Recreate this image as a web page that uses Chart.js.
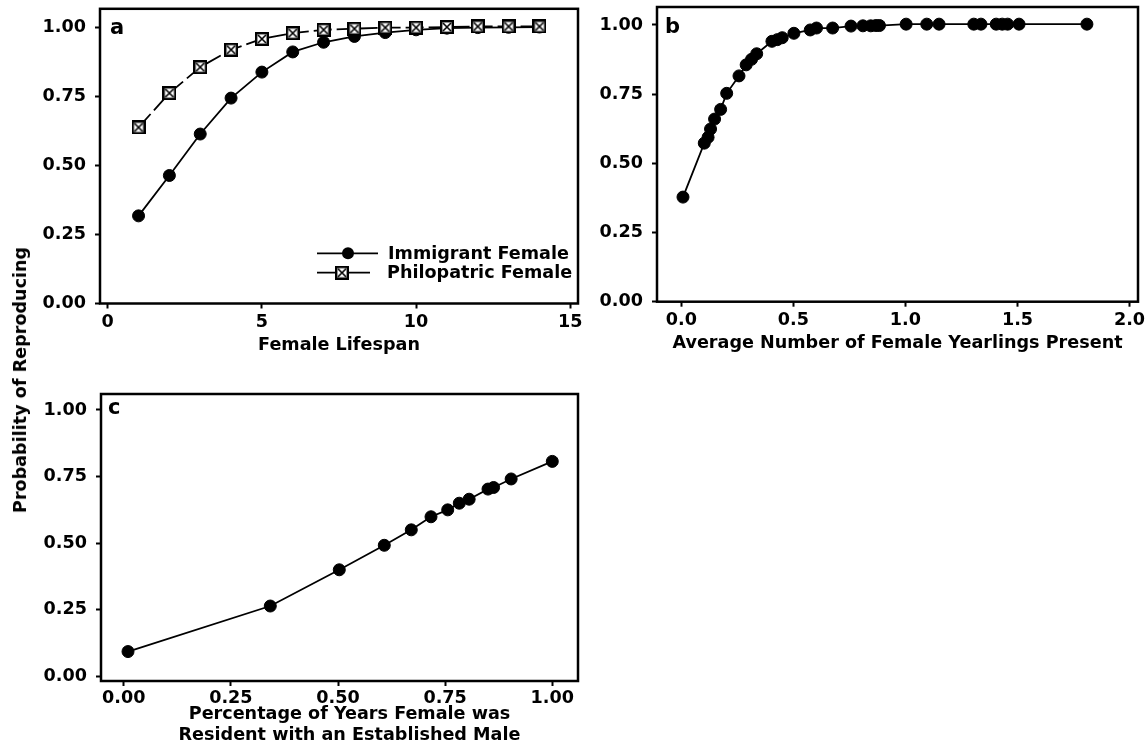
<!DOCTYPE html>
<html>
<head>
<meta charset="utf-8">
<script src="https://cdn.jsdelivr.net/npm/chart.js@4.4.0/dist/chart.umd.min.js"></script>
<style>
html,body{margin:0;padding:0;background:#fff;width:1147px;height:755px;overflow:hidden;}
.panel{position:absolute;}
#ytitle{position:absolute;left:20px;top:380px;font:bold 17.6px "DejaVu Sans";color:#000;white-space:nowrap;transform:translate(-50%,-50%) rotate(-90deg);}
</style>
</head>
<body>
<div class="panel" style="left:0;top:0;width:590px;height:360px;"><canvas id="ca"></canvas></div>
<div class="panel" style="left:557px;top:0;width:590px;height:360px;"><canvas id="cb"></canvas></div>
<div class="panel" style="left:0;top:370px;width:590px;height:385px;"><canvas id="cc"></canvas></div>
<div id="ytitle">Probability of Reproducing</div>
<script>
// ---------- DATA ----------
const lifespan = [1,2,3,4,5,6,7,8,9,10,11,12,13,14];
const immigrantProb = [0.317,0.463,0.613,0.743,0.837,0.910,0.945,0.966,0.980,0.990,0.996,0.998,0.999,1.000];
const philopatricProb = [0.637,0.761,0.855,0.918,0.957,0.978,0.990,0.994,0.998,0.998,1.000,1.002,1.002,1.002];

const yearlings = [0.007,0.102,0.119,0.130,0.148,0.175,0.202,0.257,0.289,0.313,0.336,0.404,0.428,0.450,0.502,0.575,0.603,0.675,0.757,0.810,0.845,0.868,0.884,1.003,1.095,1.150,1.305,1.337,1.405,1.432,1.456,1.507,1.810];
const probYearlings = [0.378,0.573,0.594,0.624,0.660,0.695,0.753,0.816,0.856,0.876,0.896,0.941,0.947,0.954,0.970,0.982,0.989,0.989,0.996,0.997,0.997,0.998,0.998,1.003,1.003,1.003,1.003,1.003,1.003,1.003,1.003,1.003,1.003];

const residentPct = [0.010,0.342,0.503,0.608,0.671,0.717,0.756,0.783,0.806,0.850,0.863,0.904,1.000];
const probResident = [0.093,0.264,0.400,0.492,0.550,0.599,0.625,0.650,0.665,0.703,0.709,0.741,0.807];

const yTicks = [0,0.25,0.5,0.75,1.0];
const yTickLabels = ['0.00','0.25','0.50','0.75','1.00'];
const xTicksA = [0,5,10,15];
const xTickLabelsA = ['0','5','10','15'];
const xTicksB = [0,0.5,1.0,1.5,2.0];
const xTickLabelsB = ['0.0','0.5','1.0','1.5','2.0'];
const xTicksC = [0,0.25,0.5,0.75,1.0];
const xTickLabelsC = ['0.00','0.25','0.50','0.75','1.00'];

const seriesNames = ['Immigrant Female','Philopatric Female'];
const panelLetters = ['a','b','c'];
const xTitles = ['Female Lifespan','Average Number of Female Yearlings Present',['Percentage of Years Female was','Resident with an Established Male']];

// ---------- STYLE HELPERS ----------
const FONT = '"DejaVu Sans"';
const FS = 17.6;
function makeBoxX(size){
  const c=document.createElement('canvas'); c.width=size; c.height=size;
  const g=c.getContext('2d');
  g.fillStyle='#fff'; g.fillRect(1,1,size-2,size-2);
  g.strokeStyle='#000'; g.lineWidth=2.4; g.strokeRect(1.2,1.2,size-2.4,size-2.4);
  g.lineWidth=1.6; g.beginPath();
  g.moveTo(3,3); g.lineTo(size-3,size-3); g.moveTo(size-3,3); g.lineTo(3,size-3); g.stroke();
  return c;
}
const boxX = makeBoxX(14);

const boxPlugin = {id:'boxFrame', beforeDatasetsDraw(chart){
  const {ctx, chartArea:a} = chart;
  ctx.save(); ctx.lineWidth=2.5; ctx.strokeStyle='#000';
  ctx.strokeRect(a.left, a.top, a.right-a.left, a.bottom-a.top);
  ctx.restore();
}};
const letterPlugin = {id:'panelLetter', afterDraw(chart, args, opts){
  const {ctx, chartArea:a} = chart;
  ctx.save(); ctx.fillStyle='#000'; ctx.font='bold 21px '+FONT;
  ctx.textBaseline='alphabetic'; ctx.textAlign='left';
  ctx.fillText(opts.text, a.left+opts.dx, a.top+opts.dy);
  ctx.restore();
}};
// two-line axis title for panel c, centred slightly right of the plot centre as in the original
const cTitlePlugin = {id:'cTitle', afterDraw(chart, args, opts){
  const {ctx, chartArea:a} = chart;
  ctx.save(); ctx.fillStyle='#000'; ctx.font='bold '+FS+'px '+FONT;
  ctx.textBaseline='middle'; ctx.textAlign='center';
  const cx = (a.left+a.right)/2 + opts.dx;
  opts.lines.forEach((t,i)=>ctx.fillText(t, cx, a.bottom + opts.dy + i*opts.lh));
  ctx.restore();
}};
const legendPlugin = {id:'insetLegend', afterDatasetsDraw(chart){
  const {ctx, chartArea:a} = chart;
  ctx.save();
  ctx.font='bold '+FS+'px '+FONT; ctx.fillStyle='#000'; ctx.strokeStyle='#000';
  ctx.textBaseline='middle'; ctx.textAlign='left';
  let y = a.bottom - 50.2;
  ctx.lineWidth=1.8; ctx.beginPath(); ctx.moveTo(a.left+217, y); ctx.lineTo(a.left+278, y); ctx.stroke();
  ctx.beginPath(); ctx.arc(a.left+248, y, 6, 0, Math.PI*2); ctx.fill();
  ctx.fillText(chart.data.datasets[0].label, a.left+288, y+1);
  y = a.bottom - 30.8;
  ctx.beginPath(); ctx.moveTo(a.left+217, y); ctx.lineTo(a.left+270, y); ctx.stroke();
  ctx.drawImage(boxX, a.left+242-7, y-7);
  ctx.fillText(chart.data.datasets[1].label, a.left+287, y+1);
  ctx.restore();
}};

function xScale(min,max,ticks,labels,title,height,tpad,lpad){
  return {type:'linear', position:'bottom', min:min, max:max,
    afterBuildTicks:s=>{s.ticks=ticks.map(v=>({value:v}));},
    afterFit:s=>{s.height=height; s.paddingLeft=0; s.paddingRight=0;},
    border:{display:false},
    grid:{display:true, drawOnChartArea:false, drawTicks:true, tickLength:5, tickWidth:2, tickColor:'#000'},
    ticks:{color:'#000', padding:lpad, maxRotation:0, autoSkip:false, font:{family:FONT, weight:'bold', size:FS},
      callback:(v,i)=>labels[i]},
    title:{display:title!==null, text:title||'', color:'#000', padding:{top:0,bottom:tpad},
      font:{family:FONT, weight:'bold', size:FS, lineHeight:1.2}}
  };
}
function yScale(min,max,width){
  return {type:'linear', position:'left', min:min, max:max,
    afterBuildTicks:s=>{s.ticks=yTicks.map(v=>({value:v}));},
    afterFit:s=>{s.width=width; s.paddingTop=0; s.paddingBottom=0;},
    border:{display:false},
    grid:{display:true, drawOnChartArea:false, drawTicks:true, tickLength:5, tickWidth:2, tickColor:'#000'},
    ticks:{color:'#000', padding:9, autoSkip:false, font:{family:FONT, weight:'bold', size:FS},
      callback:(v,i)=>yTickLabels[i]}
  };
}
function pts(xs,ys){return xs.map((x,i)=>({x:x,y:ys[i]}));}
function circleSet(label,xs,ys,order){
  return {label:label, data:pts(xs,ys), borderColor:'#000', borderWidth:1.8,
    pointStyle:'circle', pointRadius:6, pointHoverRadius:6, pointBackgroundColor:'#000', pointBorderColor:'#000',
    pointBorderWidth:1, tension:0, fill:false, order:order, clip:false};
}
const common = {responsive:true, maintainAspectRatio:false, animation:false, events:[],
  plugins:{legend:{display:false}, tooltip:{enabled:false}}};

// ---------- PANEL A ----------
new Chart(document.getElementById('ca'), {
  type:'line',
  data:{datasets:[
    circleSet(seriesNames[0], lifespan, immigrantProb, 1),
    {label:seriesNames[1], data:pts(lifespan, philopatricProb), borderColor:'#000', borderWidth:1.8,
      borderDash:[18,5], pointStyle:boxX, pointRadius:7, pointHoverRadius:7, tension:0, fill:false, order:0, clip:false}
  ]},
  options:Object.assign({}, common, {
    layout:{padding:{top:7,right:12,bottom:0,left:0}},
    scales:{x:xScale(-0.25,15.25,xTicksA,xTickLabelsA,xTitles[0],56.5,4.4,2.9), y:yScale(0,1.066,100)},
    plugins:Object.assign({}, common.plugins, {panelLetter:{text:panelLetters[0], dx:10, dy:24.7}})
  }),
  plugins:[boxPlugin, letterPlugin, legendPlugin]
});

// ---------- PANEL B ----------
new Chart(document.getElementById('cb'), {
  type:'line',
  data:{datasets:[circleSet('b', yearlings, probYearlings, 0)]},
  options:Object.assign({}, common, {
    layout:{padding:{top:6,right:9,bottom:0,left:0}},
    scales:{x:xScale(-0.109,2.038,xTicksB,xTickLabelsB,xTitles[1],58.3,6.4,2.7), y:yScale(0,1.065,100)},
    plugins:Object.assign({}, common.plugins, {panelLetter:{text:panelLetters[1], dx:8, dy:26}})
  }),
  plugins:[boxPlugin, letterPlugin]
});

// ---------- PANEL C ----------
new Chart(document.getElementById('cc'), {
  type:'line',
  data:{datasets:[circleSet('c', residentPct, probResident, 0)]},
  options:Object.assign({}, common, {
    layout:{padding:{top:24,right:12,bottom:0,left:0}},
    scales:{x:xScale(-0.053,1.06,xTicksC,xTickLabelsC,null,74,0,1.4), y:yScale(-0.0175,1.06,101)},
    plugins:Object.assign({}, common.plugins, {
      panelLetter:{text:panelLetters[2], dx:7, dy:20},
      cTitle:{lines:xTitles[2], dx:10, dy:33, lh:21.5}})
  }),
  plugins:[boxPlugin, letterPlugin, cTitlePlugin]
});
</script>
</body>
</html>
